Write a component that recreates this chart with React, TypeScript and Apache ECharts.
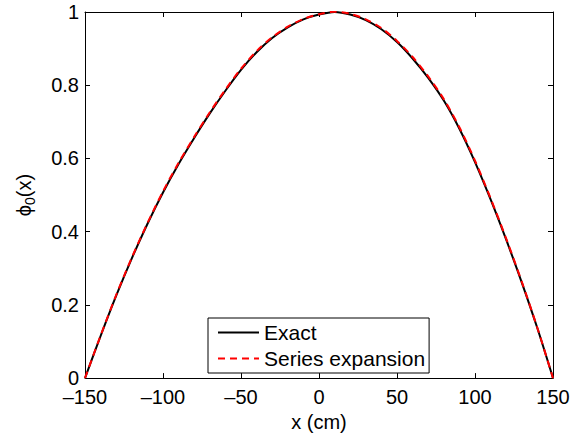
import React, { useEffect, useRef } from "react";
import * as echarts from "echarts";

const xValues = [-150, -140, -130, -120, -110, -100, -90, -80, -70, -60, -50, -40, -30, -20, -10, 0, 10, 20, 30, 40, 50, 60, 70, 80, 90, 100, 110, 120, 130, 140, 150];
const exactValues = [0, 0.115, 0.225, 0.327, 0.421, 0.507, 0.585, 0.656, 0.723, 0.785, 0.842, 0.89, 0.929, 0.958, 0.98, 0.993, 1.0, 0.993, 0.978, 0.953, 0.918, 0.873, 0.82, 0.758, 0.681, 0.59, 0.488, 0.378, 0.261, 0.136, 0];
const seriesValues = [0, 0.116, 0.227, 0.329, 0.423, 0.51, 0.588, 0.659, 0.726, 0.788, 0.845, 0.893, 0.931, 0.96, 0.981, 0.994, 1.001, 0.995, 0.98, 0.956, 0.921, 0.877, 0.824, 0.762, 0.685, 0.594, 0.491, 0.381, 0.263, 0.137, 0];
const xTicks = { min: -150, max: 150, interval: 50 };
const yTicks = { min: 0, max: 1, interval: 0.2 };
const seriesNames = ["Exact", "Series expansion"];

const FONT = "Liberation Sans, Arial, Helvetica, sans-serif";

export default function App() {
  const ref = useRef<HTMLDivElement>(null);
  useEffect(() => {
    if (!ref.current) return;
    const chart = echarts.init(ref.current, null, { renderer: "svg" });
    const axisLine = { show: true, onZero: false, lineStyle: { color: "#000", width: 1 } };
    const axisTick = { show: true, inside: true, length: 5, lineStyle: { color: "#000", width: 1 } };
    const label = { color: "#000", fontSize: 20, fontFamily: FONT };
    const fmtX = (v: number) => (v < 0 ? "\u2013" + Math.abs(v) : String(v));
    const fmtY = (v: number) => String(Math.round(v * 10) / 10);
    const exactData = xValues.map((x, i) => [x, exactValues[i]]);
    const seriesData = xValues.map((x, i) => [x, seriesValues[i]]);
    chart.setOption({
      animation: false,
      backgroundColor: "#fff",
      grid: { left: 85, right: 20, top: 12, bottom: 56, containLabel: false },
      xAxis: [
        {
          type: "value",
          position: "bottom",
          min: xTicks.min,
          max: xTicks.max,
          interval: xTicks.interval,
          axisLine,
          axisTick,
          splitLine: { show: false },
          axisLabel: { ...label, lineHeight: 16, margin: 11, formatter: fmtX },
          name: "x (cm)",
          nameLocation: "middle",
          nameGap: 26,
          nameTextStyle: { ...label },
        },
        {
          type: "value",
          position: "top",
          min: xTicks.min,
          max: xTicks.max,
          interval: xTicks.interval,
          axisLine,
          axisTick,
          splitLine: { show: false },
          axisLabel: { show: false },
        },
      ],
      yAxis: [
        {
          type: "value",
          position: "left",
          min: yTicks.min,
          max: yTicks.max,
          interval: yTicks.interval,
          axisLine,
          axisTick,
          splitLine: { show: false },
          axisLabel: { ...label, lineHeight: 16, margin: 6, formatter: fmtY },
          name: "{a|\u03d5}{b|0}{a|(x)}",
          nameLocation: "middle",
          nameGap: 48,
          nameTextStyle: {
            ...label,
            rich: {
              a: { fontSize: 20, fontFamily: FONT, color: "#000" },
              b: { fontSize: 14, fontFamily: FONT, color: "#000", padding: [12, 0, 0, 0] },
            },
          },
        },
        {
          type: "value",
          position: "right",
          min: yTicks.min,
          max: yTicks.max,
          interval: yTicks.interval,
          axisLine,
          axisTick,
          splitLine: { show: false },
          axisLabel: { show: false },
        },
      ],
      legend: {
        orient: "vertical",
        left: 208,
        top: 318,
        padding: [4, 4, 4, 9],
        itemGap: 5,
        itemWidth: 41,
        itemHeight: 20,
        borderColor: "#000",
        borderWidth: 1,
        borderRadius: 0,
        backgroundColor: "#fff",
        itemStyle: { opacity: 0 },
        data: seriesNames,
        textStyle: { color: "#000", fontSize: 21, fontFamily: FONT, lineHeight: 20 },
      },
      series: [
        {
          name: seriesNames[0],
          type: "line",
          data: exactData,
          smooth: 0.3,
          symbol: "none",
          lineStyle: { color: "#000", width: 2 },
          itemStyle: { color: "#000" },
        },
        {
          name: seriesNames[1],
          type: "line",
          data: seriesData,
          smooth: 0.3,
          symbol: "none",
          lineStyle: { color: "#ff0000", width: 2, type: [7, 5] },
          itemStyle: { color: "#ff0000" },
        },
      ],
    });
    return () => chart.dispose();
  }, []);
  return (
    <div
      ref={ref}
      style={{ position: "fixed", left: 0, top: 0, width: 573, height: 437, background: "#fff" }}
    />
  );
}
